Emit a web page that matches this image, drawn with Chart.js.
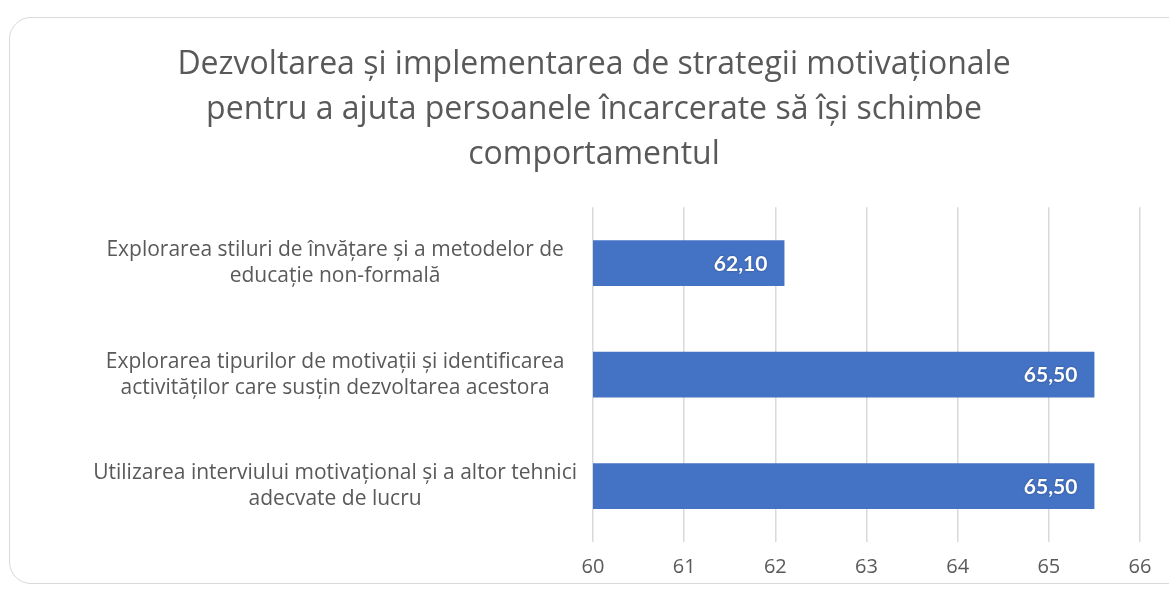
<!DOCTYPE html>
<html>
<head>
<meta charset="utf-8">
<script src="https://cdn.jsdelivr.net/npm/chart.js@4"></script>
<style>
  html, body { margin: 0; padding: 0; background: #fff; overflow: hidden; }
  #wrap { position: relative; width: 1169px; height: 589px; }
  #frame {
    position: absolute; left: 9px; top: 17px; width: 1200px; height: 567px;
    border: 1px solid #d9d9d9; border-radius: 22px; box-sizing: border-box;
  }
  canvas { position: absolute; left: 0; top: 0; }
</style>
</head>
<body>
<div id="wrap">
  <div id="frame"></div>
  <canvas id="chart" width="1169" height="589"></canvas>
</div>
<script>
const titleLines = [
    'Dezvoltarea și implementarea de strategii motivaționale',
    'pentru a ajuta persoanele încarcerate să își schimbe',
    'comportamentul'
];

const categories = [
    ['Explorarea stiluri de învățare și a metodelor de', 'educație non-formală'],
    ['Explorarea tipurilor de motivații și identificarea', 'activităților care susțin dezvoltarea acestora'],
    ['Utilizarea interviului motivațional și a altor tehnici', 'adecvate de lucru']
];

const values = [62.10, 65.50, 65.50];

const xMin = 60
const xMax = 66

const TEXT = '#595959'
const FONT = '"Open Sans", sans-serif'

// etichete de valoare în interiorul barei, aliniate la capăt
const barLabels = {
    id: 'barLabels',
    afterDatasetsDraw(chart) {
        const ctx = chart.ctx
        const meta = chart.getDatasetMeta(0)
        ctx.save()
        ctx.font = 'bold 21px Lato, sans-serif'
        ctx.fillStyle = '#ffffff'
        ctx.textAlign = 'right'
        ctx.textBaseline = 'middle'
        ctx.shadowColor = 'rgba(0,0,0,0.35)'
        ctx.shadowBlur = 2
        meta.data.forEach((bar, i) => {
            const txt = values[i].toFixed(2).replace('.', ',')
            ctx.fillText(txt, bar.x - 17, bar.y + 1)
        })
        ctx.restore()
    }
}

new Chart(document.getElementById('chart'), {
    type: 'bar',
    data: {
        labels: categories,
        datasets: [{
            data: values,
            backgroundColor: '#4472C4',
            categoryPercentage: 1,
            barPercentage: 0.41
        }]
    },
    options: {
        indexAxis: 'y',
        responsive: false,
        animation: false,
        layout: { padding: { left: 48, right: 29, top: 42, bottom: -3 } },
        plugins: {
            legend: { display: false },
            tooltip: { enabled: false },
            title: {
                display: true,
                text: titleLines,
                color: TEXT,
                font: { family: FONT, size: 32, weight: 'normal', lineHeight: 1.41 },
                padding: { top: 0, bottom: 30 }
            }
        },
        scales: {
            x: {
                min: xMin,
                max: xMax,
                ticks: {
                    stepSize: 1,
                    color: TEXT,
                    padding: 13,
                    font: { family: FONT, size: 20 }
                },
                grid: { color: '#d9d9d9', lineWidth: 1.5, drawTicks: false },
                border: { display: false }
            },
            y: {
                afterFit(scale) {
                    // lățimea zonei de etichete, ca plotul să înceapă la ~593px
                    scale.width = 545
                },
                ticks: {
                    color: TEXT,
                    crossAlign: 'center',
                    padding: 8,
                    font: { family: FONT, size: 21, lineHeight: 1.25 }
                },
                grid: { display: false },
                border: { display: false }
            }
        }
    },
    plugins: [barLabels]
});
</script>
</body>
</html>
